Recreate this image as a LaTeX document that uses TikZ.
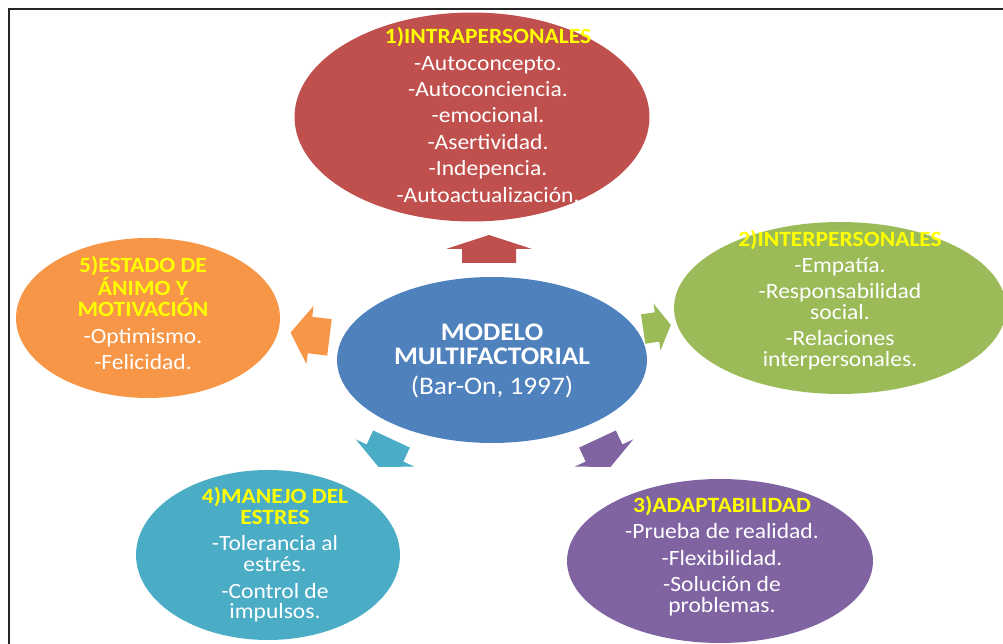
\documentclass[tikz,border=0pt]{standalone}
\usepackage{fontspec}
\setmainfont{Carlito}[FakeStretch=1.08]
\usepackage{tikz}
\usetikzlibrary{shapes.geometric}

\definecolor{rojo}{HTML}{C0504D}
\definecolor{verde}{HTML}{9BBB59}
\definecolor{naranja}{HTML}{F79646}
\definecolor{azul}{HTML}{4F81BD}
\definecolor{turquesa}{HTML}{4BACC6}
\definecolor{morado}{HTML}{8064A2}
\definecolor{amarillo}{HTML}{FFFF00}
\newcommand{\titulo}[1]{\textbf{\textcolor{amarillo}{#1}}}

\begin{document}
\begin{tikzpicture}[x=0.02cm,y=-0.02cm,
  elipse/.style={ellipse,inner sep=0pt,outer sep=0pt},
  texto/.style={align=center,text=white,font=\fontsize{12.4}{11.8}\selectfont},
  flecha/.pic={\fill[#1] (-14,-27) -- (0,-27) -- (0,-43) -- (14,0) -- (0,43) -- (0,27) -- (-14,27) -- cycle;}]

  \useasboundingbox (0,0) rectangle (1003,644);
  \draw[line width=1.6pt,black!85] (9,644) -- (9,9) -- (1003,9);

  \node[elipse,fill=rojo,minimum width=7.1cm,minimum height=4.18cm] (1) at (472,117) {};
  \node[elipse,fill=verde,minimum width=6.64cm,minimum height=3.44cm] (2) at (840,308) {};
  \node[elipse,fill=morado,minimum width=6.12cm,minimum height=3.28cm] (3) at (720,561) {};
  \node[elipse,fill=turquesa,minimum width=5.28cm,minimum height=3.4cm] (4) at (268,555) {};
  \node[elipse,fill=naranja,minimum width=5.28cm,minimum height=3.2cm] (5) at (148,318) {};
  \node[elipse,fill=azul,minimum width=6.2cm,minimum height=3.32cm] (0) at (492,360) {};

  \node[texto] (t1) at (488,115) {\titulo{1)INTRAPERSONALES}\\[3.2pt]
    -Autoconcepto.\\[3.2pt] -Autoconciencia.\\[3.2pt] -emocional.\\[3.2pt]
    -Asertividad.\\[3.2pt] -Indepencia.\\[3.2pt] -Autoactualización.};
  \node[texto] (t2) at (840,300) {\titulo{2)INTERPERSONALES}\\[3.2pt]
    -Empatía.\\[3.2pt] -Responsabilidad\\ social.\\[3.2pt] -Relaciones\\ interpersonales.};
  \node[texto] (t3) at (722,556) {\titulo{3)ADAPTABILIDAD}\\[3.2pt]
    -Prueba de realidad.\\[3.2pt] -Flexibilidad.\\[3.2pt] -Solución de\\ problemas.};
  \node[texto] (t4) at (275,555) {\titulo{4)MANEJO DEL}\\ \titulo{ESTRES}\\[3.2pt]
    -Tolerancia al\\ estrés.\\[3.2pt] -Control de\\ impulsos.};
  \node[texto] (t5) at (143,313) {\titulo{5)ESTADO DE}\\ \titulo{ÁNIMO Y}\\ \titulo{MOTIVACIÓN}\\[3.2pt]
    -Optimismo.\\[3.2pt] -Felicidad.};
  \node[texto,font=\fontsize{14.4}{13.7}\selectfont] (t0) at (492,361)
    {\textbf{MODELO}\\ \textbf{MULTIFACTORIAL}\\[3.3pt] (Bar-On, 1997)};

  \pic[rotate=90] at (489,249) {flecha=rojo};
  \pic[rotate=8.5,yscale=0.55] at (657,327) {flecha=verde};
  \pic[rotate=295,xscale=1.1,yscale=0.75] at (604,453) {flecha=morado};
  \pic[rotate=245,xscale=1.1,yscale=0.75] at (385,453) {flecha=turquesa};
  \pic[rotate=173,xscale=1.4,yscale=0.68] at (310,335) {flecha=naranja};

\end{tikzpicture}
\end{document}
